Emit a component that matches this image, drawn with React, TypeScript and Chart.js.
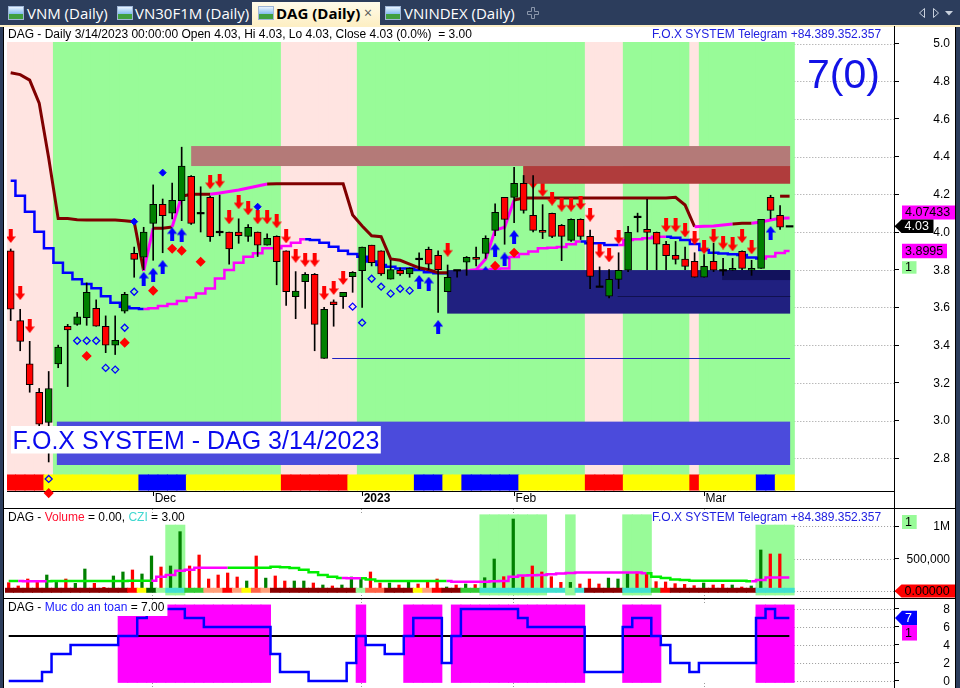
import React, { useEffect, useRef } from 'react';
import { Chart, registerables } from 'chart.js';

Chart.register(...registerables);

/* ====================== DATA ====================== */
// one slot per trading day, 83 bars ending 3/14/2023
const monthTickBars = [15, 37, 53, 73];
const monthTickLabels = ['Dec', '2023', 'Feb', 'Mar'];
const priceAxisTicks = [2.8, 3.0, 3.2, 3.4, 3.6, 3.8, 4.0, 4.2, 4.4, 4.6, 4.8, 5.0];
const volumeAxisTicks = [0, 500000, 1000000];
const volumeAxisLabels = ['', '500,000', '1M'];
const safetyAxisTicks = [0, 2, 4, 6, 8];

const openP = [
  3.90, 3.53, 3.30, 3.15, 2.99, 3.30, 3.50, 3.51, 3.545, 3.595,
  3.50, 3.40, 3.58, 3.887, 3.866, 4.046, 4.147, 4.10, 4.166, 4.295,
  4.10, 4.184, 4.0, 4.0, 4.0, 3.977, 4.0, 3.93, 3.977, 3.90,
  3.657, 3.737, 3.775, 3.33, 3.63, 3.657, 3.763, 3.795, 3.93, 3.90,
  3.75, 3.797, 3.777, 3.857, 3.908, 3.876, 3.683, 3.797, 3.84, 3.866,
  3.887, 4.009, 4.184, 4.184, 4.258, 4.088, 4.009, 4.099, 4.035, 3.956,
  4.067, 3.977, 3.71, 3.659, 3.749, 3.797, 4.08, 4.014, 3.998, 3.935,
  3.876, 3.857, 3.845, 3.76, 3.845, 3.797, 3.797, 3.898, 3.797, 3.807,
  4.184, 4.088, 4.03,
];
const highP = [
  3.91, 3.59, 3.42, 3.17, 3.26, 3.40, 3.51, 3.574, 3.73, 3.64,
  3.555, 3.555, 3.68, 3.92, 4.025, 4.25, 4.175, 4.26, 4.45, 4.30,
  4.24, 4.19, 4.196, 4.0, 4.07, 4.04, 4.0, 3.99, 3.98, 3.90,
  3.79, 3.785, 3.78, 3.60, 3.64, 3.68, 3.79, 3.92, 3.93, 3.90,
  3.85, 3.81, 3.81, 3.89, 3.92, 3.90, 3.825, 3.797, 3.87, 3.92,
  3.98, 4.15, 4.184, 4.343, 4.30, 4.30, 4.145, 4.10, 4.04, 4.07,
  4.07, 4.01, 3.815, 3.80, 3.89, 4.03, 4.10, 4.173, 4.0, 3.95,
  3.95, 3.92, 3.89, 3.88, 3.94, 3.86, 3.86, 3.90, 3.85, 4.067,
  4.195, 4.14, 4.03,
];
const lowP = [
  3.53, 3.37, 3.15, 2.95, 2.78, 3.28, 3.18, 3.505, 3.505, 3.50,
  3.36, 3.35, 3.57, 3.76, 3.80, 3.85, 3.89, 4.07, 4.06, 4.04,
  4.0, 3.95, 3.98, 3.83, 3.94, 3.95, 3.87, 3.93, 3.72, 3.61,
  3.54, 3.595, 3.37, 3.33, 3.50, 3.595, 3.68, 3.60, 3.82, 3.77,
  3.75, 3.77, 3.76, 3.80, 3.80, 3.574, 3.683, 3.76, 3.77, 3.82,
  3.86, 3.98, 3.935, 4.05, 4.10, 4.0, 3.965, 3.97, 3.848, 3.95,
  3.96, 3.70, 3.71, 3.65, 3.70, 3.79, 4.0, 3.80, 3.80, 3.80,
  3.83, 3.80, 3.76, 3.76, 3.79, 3.77, 3.797, 3.80, 3.77, 3.807,
  4.07, 4.014, 4.03,
];
const closeP = [
  3.59, 3.42, 3.19, 2.98, 3.17, 3.39, 3.48, 3.55, 3.68, 3.50,
  3.40, 3.425, 3.67, 3.855, 4.0, 4.147, 4.087, 4.168, 4.35, 4.046,
  4.10, 3.975, 4.0, 3.91, 3.98, 4.025, 3.93, 3.966, 3.842, 3.683,
  3.687, 3.775, 3.51, 3.59, 3.615, 3.68, 3.786, 3.92, 3.837, 3.777,
  3.80, 3.777, 3.807, 3.857, 3.829, 3.80, 3.76, 3.797, 3.866, 3.855,
  3.967, 4.105, 4.067, 4.258, 4.115, 4.009, 3.998, 3.977, 3.977, 4.067,
  3.977, 3.765, 3.71, 3.749, 3.797, 3.998, 4.08, 3.998, 3.935, 3.874,
  3.855, 3.818, 3.76, 3.818, 3.797, 3.797, 3.807, 3.807, 3.807, 4.067,
  4.115, 4.025, 4.03,
];

// slow trend line (blue when falling regime, magenta when rising regime)
const slowLine = [
  4.272, 4.193, 4.108, 4.002, 3.914, 3.837, 3.784, 3.749, 3.724, 3.701,
  3.659, 3.625, 3.604, 3.595, 3.591, 3.595, 3.607, 3.618, 3.634, 3.653,
  3.674, 3.70, 3.754, 3.798, 3.837, 3.869, 3.887, 3.914, 3.914, 3.926,
  3.943, 3.961, 3.958, 3.943, 3.922, 3.901, 3.883, 3.869, 3.843, 3.825,
  3.816, 3.807, 3.807, 3.798, 3.786, 3.781, 3.781, 3.788, 3.793, 3.798,
  3.80, 3.804, 3.807, 3.867, 3.883, 3.897, 3.914, 3.917, 3.92, 3.935,
  3.949, 3.94, 3.94, 3.931, 3.931, 3.958, 3.961, 3.967, 3.975, 3.975,
  3.97, 3.958, 3.936, 3.905, 3.89, 3.886, 3.882, 3.878, 3.865, 3.86,
  3.87, 3.889, 3.8995,
];
const slowUp = [
  0, 0, 0, 0, 0, 0, 0, 0, 0, 0,
  0, 0, 0, 0, 0, 1, 1, 1, 1, 1,
  1, 1, 1, 1, 1, 1, 1, 1, 1, 1,
  1, 1, 0, 0, 0, 0, 0, 0, 0, 0,
  0, 0, 0, 0, 0, 0, 0, 0, 0, 1,
  1, 1, 1, 1, 1, 1, 1, 1, 1, 1,
  1, 0, 0, 0, 0, 1, 1, 1, 1, 1,
  0, 0, 0, 0, 0, 0, 0, 0, 0, 0,
  1, 1, 1,
];
// fast trailing line (maroon / magenta)
const fastLine = [
  4.845, 4.835, 4.806, 4.684, 4.393, 4.071, 4.071, 4.065, 4.064, 4.064,
  4.064, 4.064, 4.06, 4.055, 3.793, 4.02, 4.02, 4.027, 4.19, 4.20,
  4.20, 4.20, 4.207, 4.215, 4.223, 4.233, 4.244, 4.255, 4.256, 4.256,
  4.256, 4.256, 4.256, 4.256, 4.256, 4.256, 4.09, 4.032, 3.98, 3.975,
  3.857, 3.85, 3.83, 3.81, 3.80, 3.784, 3.784, 3.788, 3.793, 3.80,
  3.857, 4.01, 4.025, 4.17, 4.18, 4.18, 4.18, 4.18, 4.18, 4.18,
  4.18, 4.18, 4.18, 4.18, 4.18, 4.18, 4.18, 4.18, 4.18, 4.18,
  4.184, 4.143, 4.028, 4.03, 4.032, 4.037, 4.042, 4.046, 4.046, 4.053,
  4.064, 4.073, 4.07433,
];
const fastUp = [
  0, 0, 0, 0, 0, 0, 0, 0, 0, 0,
  0, 0, 0, 0, 0, 1, 0, 0, 1, 0,
  0, 0, 1, 1, 1, 1, 1, 1, 0, 0,
  0, 0, 0, 0, 0, 0, 0, 0, 0, 0,
  0, 0, 0, 0, 0, 0, 0, 0, 0, 1,
  1, 1, 1, 1, 0, 0, 0, 0, 0, 0,
  0, 0, 0, 0, 0, 0, 0, 0, 0, 0,
  0, 0, 0, 1, 1, 1, 1, 0, 0, 1,
  1, 1, 1,
];
const resistanceLine = [[81, 4.19], [82, 4.19]];

// regime background (0 = pink, 1 = green) and bottom strip (0 red, 1 yellow, 2 blue)
const priceBand = [
  0, 0, 0, 0, 0, 1, 1, 1, 1, 1,
  1, 1, 1, 1, 1, 1, 1, 1, 1, 1,
  1, 1, 1, 1, 1, 1, 1, 1, 1, 0,
  0, 0, 0, 0, 0, 0, 0, 1, 1, 1,
  1, 1, 1, 1, 1, 1, 1, 1, 1, 1,
  1, 1, 1, 1, 1, 1, 1, 1, 1, 1,
  1, 0, 0, 0, 0, 1, 1, 1, 1, 1,
  1, 1, 0, 1, 1, 1, 1, 1, 1, 1,
  1, 1, 1,
];
const priceStrip = [
  0, 0, 0, 0, 1, 1, 1, 1, 1, 1,
  1, 1, 1, 1, 2, 2, 2, 2, 2, 1,
  1, 1, 1, 1, 1, 1, 1, 1, 1, 0,
  0, 0, 0, 0, 0, 0, 1, 1, 1, 1,
  1, 1, 1, 2, 2, 2, 1, 1, 2, 2,
  2, 2, 2, 2, 1, 1, 1, 1, 1, 1,
  1, 0, 0, 0, 0, 1, 1, 1, 1, 1,
  1, 1, 0, 1, 1, 1, 1, 1, 1, 2,
  2, 1, 1,
];

// signals: [bar, price]
const sellArrows = [
  [0, 3.979], [1, 3.676], [2, 3.501], [21, 4.264], [22, 4.272], [23, 4.078], [24, 4.158],
  [25, 4.126], [26, 4.078], [27, 4.078], [28, 4.057], [29, 3.977], [30, 3.874], [31, 3.853],
  [32, 3.853], [33, 3.676], [34, 3.703], [35, 3.756], [46, 3.906], [55, 4.265], [56, 4.224],
  [57, 4.177], [58, 4.145], [59, 4.145], [60, 4.154], [61, 4.092], [62, 3.898], [63, 3.876],
  [64, 3.973], [69, 4.036], [70, 4.036], [71, 4.008], [72, 3.968], [73, 3.919], [74, 3.978],
  [75, 3.944], [76, 3.935], [77, 3.978], [78, 3.919],
];
const buyArrows = [
  [14, 3.752], [15, 3.773], [16, 3.814], [17, 3.988], [18, 3.982], [43, 3.735], [44, 3.726],
  [45, 3.496], [50, 3.782], [51, 3.903], [52, 3.855], [53, 3.973], [80, 3.995],
];
const blueDots = [[13, 4.055], [16, 4.315], [26, 4.134]];
const redDots = [
  [4, 2.615], [8, 3.342], [12, 3.413], [15, 3.689], [17, 3.911], [18, 3.901], [20, 3.842],
  [51, 3.82], [53, 3.89],
];
const hollowDots = [
  [4, 2.69], [7, 3.423], [8, 3.423], [9, 3.423], [10, 3.279], [11, 3.27], [12, 3.492],
  [13, 3.683], [36, 3.604], [37, 3.519], [38, 3.752], [39, 3.71], [40, 3.673], [41, 3.699],
  [42, 3.689],
];
// price zones: [fromBar, toBar, low, high]
const priceZones = [
  [19, 82.06, 4.35, 4.456],
  [53.95, 82.06, 4.256, 4.35],
  [45.95, 82.06, 3.567, 3.798],
  [74.9, 82.06, 3.745, 3.798],
  [4.86, 82.06, 2.764, 2.994],
];
// horizontal level lines: [fromBar, toBar, price]
const levelLines = [[33.85, 82.06, 3.33], [63.9, 82.06, 3.66]];
const lastValues = { close: 4.03, fast: 4.07433, slow: 3.8995 };

// volume pane
const volume = [
  129000, 78000, 186000, 165000, 248000, 134000, 186000, 119000, 341000, 119000,
  57000, 233000, 295000, 326000, 264000, 543000, 372000, 388000, 920000, 388000,
  558000, 186000, 248000, 279000, 217000, 155000, 543000, 200000, 233000, 155000,
  155000, 155000, 124000, 93000, 78000, 93000, 217000, 186000, 295000, 124000,
  124000, 93000, 150000, 109000, 150000, 186000, 62000, 93000, 109000, 100000,
  206000, 496000, 222000, 1116000, 222000, 388000, 295000, 222000, 134000, 134000,
  109000, 186000, 109000, 200000, 186000, 269000, 295000, 269000, 145000, 140000,
  114000, 103000, 83000, 124000, 93000, 103000, 93000, 62000, 78000, 636000,
  574000, 574000, 0,
];
const volumeMA = [
  155000, 155000, 150000, 150000, 150000, 155000, 155000, 155000, 155000, 155000,
  155000, 155000, 155000, 157000, 157000, 160000, 220000, 250000, 315000, 330000,
  360000, 360000, 360000, 360000, 360000, 360000, 360000, 360000, 377000, 370000,
  355000, 330000, 290000, 250000, 220000, 200000, 197000, 197000, 180000, 155000,
  155000, 155000, 155000, 155000, 155000, 155000, 155000, 145000, 145000, 145000,
  145000, 150000, 155000, 220000, 240000, 245000, 248000, 260000, 270000, 280000,
  285000, 285000, 285000, 285000, 285000, 285000, 285000, 275000, 220000, 200000,
  180000, 170000, 160000, 160000, 160000, 160000, 160000, 160000, 150000, 170000,
  210000, 210000, 210000,
];
const volumeMAUp = [
  0, 0, 1, 1, 1, 0, 0, 0, 0, 0,
  0, 0, 0, 0, 0, 0, 1, 1, 1, 1,
  1, 1, 1, 1, 0, 0, 0, 0, 0, 0,
  0, 0, 0, 0, 0, 0, 1, 1, 0, 0,
  0, 0, 0, 0, 0, 0, 0, 1, 1, 1,
  1, 1, 1, 1, 1, 1, 1, 1, 1, 1,
  1, 1, 1, 1, 1, 1, 1, 1, 0, 0,
  0, 0, 0, 0, 0, 0, 0, 0, 0, 1,
  1, 1, 1,
];
const volumeStrip = [
  0, 0, 0, 0, 0, 0, 0, 0, 0, 0,
  0, 0, 0, 1, 2, 3, 4, 5, 5, 6,
  6, 7, 7, 1, 7, 2, 8, 7, 0, 0,
  0, 0, 0, 0, 0, 0, 0, 4, 8, 8,
  0, 0, 0, 2, 7, 1, 0, 0, 6, 6,
  5, 5, 5, 5, 5, 5, 5, 5, 5, 4,
  5, 0, 0, 0, 0, 5, 5, 5, 6, 1,
  0, 0, 0, 0, 0, 0, 0, 0, 0, 5,
  5, 5, 5,
];
const volumeBand = [
  0, 0, 0, 0, 0, 0, 0, 0, 0, 0,
  0, 0, 0, 0, 0, 0, 0, 1020000, 1020000, 0,
  0, 0, 0, 0, 0, 0, 0, 0, 0, 0,
  0, 0, 0, 0, 0, 0, 0, 0, 0, 0,
  0, 0, 0, 0, 0, 0, 0, 0, 0, 0,
  1180000, 1180000, 1180000, 1180000, 1180000, 1180000, 1180000, 0, 0, 1180000,
  0, 0, 0, 0, 0, 1180000, 1180000, 1180000, 0, 0,
  0, 0, 0, 0, 0, 0, 0, 0, 0, 1020000,
  1020000, 1020000, 1020000,
];

// safety pane ("Muc do an toan")
const safety = [
  0, 0, 0, 0, 1, 3, 3, 4, 4, 4,
  4, 4, 5, 5, 7, 8, 8, 8, 8, 7,
  7, 6, 6, 6, 6, 6, 6, 6, 3, 1,
  1, 1, 0, 0, 0, 0, 2, 5, 4, 4,
  3, 3, 5, 7, 7, 7, 2, 5, 8, 8,
  8, 8, 8, 8, 7, 6, 6, 6, 6, 6,
  6, 1, 1, 1, 1, 6, 7, 7, 5, 4,
  2, 2, 1, 2, 2, 2, 2, 2, 2, 7,
  8, 7, 7,
];
const SAFE_LEVEL = 5;

/* ====================== STYLE / LAYOUT ====================== */
const N = closeP.length;
const FONT_FAMILY = '"Liberation Sans", Arial, Helvetica, sans-serif';
const f = (size: number, bold = false) => `${bold ? 'bold ' : ''}${size}px ${FONT_FAMILY}`;
const BAR0_PX = 8.7;
const BAR_STEP_PX = 9.52;
const PLOT_LEFT = 5;
const PLOT_RIGHT = 894;
const X_MIN = (PLOT_LEFT - BAR0_PX) / BAR_STEP_PX;
const X_MAX = (PLOT_RIGHT - BAR0_PX) / BAR_STEP_PX;
const AXIS_W = 960 - PLOT_RIGHT;

const PINK = '#ffe4e1';
const PALEGREEN = '#98fb98';
const MAGENTA = '#ff00ff';
const BLUE = '#0000ff';
const MAROON = '#800000';
const LIME = '#00ee00';
const STRIP_COLORS = ['#ff0000', '#ffff00', '#0000ff'];
const VOL_STRIP_COLORS = ['#8b0000', '#ff0000', '#ffff00', '#006400', '#98fb98', '#40e0d0', '#32cd32', '#ffa07a', '#ff6347'];
const ZONE_COLORS = ['#b47a78', '#b03c3c', '#202080', '#12125c', '#4b4bdc'];
const LEVEL_COLORS = ['#2020c0', '#101050'];
const NAVY_FRAME = '#2c3d5c';

const fullBar = { barPercentage: 1, categoryPercentage: 1, grouped: false, borderWidth: 0, inflateAmount: 0.5 };

function makeArrow(color: string, up: boolean) {
  const c = document.createElement('canvas');
  c.width = 10; c.height = 14;
  const g = c.getContext('2d')!;
  g.fillStyle = color;
  g.beginPath();
  if (up) {
    g.moveTo(5, 0); g.lineTo(10, 6.5); g.lineTo(7, 6.5); g.lineTo(7, 14); g.lineTo(3, 14); g.lineTo(3, 6.5); g.lineTo(0, 6.5);
  } else {
    g.moveTo(3, 0); g.lineTo(7, 0); g.lineTo(7, 7.5); g.lineTo(10, 7.5); g.lineTo(5, 14); g.lineTo(0, 7.5); g.lineTo(3, 7.5);
  }
  g.closePath();
  g.fill();
  return c;
}

function xScale(height: number, tickLen: number): any {
  return {
    type: 'linear', min: X_MIN, max: X_MAX, offset: false,
    afterBuildTicks: (s: any) => { s.ticks = monthTickBars.map((v) => ({ value: v })); },
    afterFit: (s: any) => { s.height = height; },
    ticks: { display: false },
    grid: { display: tickLen > 0, offset: false, drawOnChartArea: false, drawTicks: tickLen > 0, tickLength: tickLen, color: '#000' },
    border: { display: tickLen > 0, color: '#000' },
  };
}
function yScale(min: number, max: number, ticks: number[]): any {
  return {
    type: 'linear', position: 'right', min, max,
    afterBuildTicks: (s: any) => { s.ticks = ticks.map((v) => ({ value: v })); },
    afterFit: (s: any) => { s.width = AXIS_W; },
    ticks: { display: false },
    grid: { offset: false, drawOnChartArea: false, drawTicks: true, tickLength: 5, color: '#000' },
    border: { display: true, color: '#000' },
  };
}
function baseOptions(padTop: number, scales: any): any {
  return {
    animation: false, responsive: false, devicePixelRatio: 1, events: [],
    layout: { padding: { left: PLOT_LEFT, top: padTop, right: 0, bottom: 0 } },
    plugins: { legend: { display: false }, tooltip: { enabled: false } },
    scales,
  };
}

function drawHGrid(chart: any, ticks: number[]) {
  const { ctx, chartArea } = chart;
  const xs = chart.scales.x, ys = chart.scales.y;
  const x0 = xs.getPixelForValue(N - 0.5);
  ctx.save();
  ctx.strokeStyle = '#9a9a9a'; ctx.lineWidth = 1; ctx.setLineDash([1, 2]);
  ticks.forEach((v) => {
    const py = Math.round(ys.getPixelForValue(v)) + 0.5;
    ctx.beginPath(); ctx.moveTo(x0, py); ctx.lineTo(chartArea.right, py); ctx.stroke();
  });
  ctx.restore();
}
function drawMonthMarks(chart: any) {
  const { ctx, chartArea } = chart;
  const xs = chart.scales.x;
  ctx.save();
  ctx.strokeStyle = '#9a9a9a'; ctx.lineWidth = 1; ctx.setLineDash([1, 2]);
  monthTickBars.forEach((b) => {
    const px = Math.round(xs.getPixelForValue(b)) + 0.5;
    ctx.beginPath(); ctx.moveTo(px, chartArea.top); ctx.lineTo(px, chartArea.top + 5); ctx.stroke();
    ctx.beginPath(); ctx.moveTo(px, chartArea.bottom - 5); ctx.lineTo(px, chartArea.bottom); ctx.stroke();
  });
  ctx.restore();
}
function drawAxisLabels(chart: any, ticks: number[], labels: string[] | null) {
  const { ctx } = chart;
  const ys = chart.scales.y;
  ctx.save();
  ctx.font = f(12); ctx.fillStyle = '#000'; ctx.textAlign = 'right'; ctx.textBaseline = 'middle';
  ticks.forEach((v, k) => {
    const t = labels ? labels[k] : v.toFixed(1);
    if (t) ctx.fillText(t, 950, ys.getPixelForValue(v) + 0.5);
  });
  ctx.restore();
}
function drawFrame(chart: any, topLine: boolean) {
  const { ctx, height } = chart;
  ctx.save();
  ctx.strokeStyle = '#000'; ctx.lineWidth = 1;
  ctx.beginPath(); ctx.moveTo(894.5, 0); ctx.lineTo(894.5, height); ctx.stroke();
  if (topLine) { ctx.beginPath(); ctx.moveTo(0, 0.5); ctx.lineTo(960, 0.5); ctx.stroke(); }
  ctx.restore();
}
function drawRuns(ctx: any, x: number, y: number, runs: [string, string][]) {
  let cx = x;
  runs.forEach(([t, c]) => { ctx.fillStyle = c; ctx.fillText(t, cx, y); cx += ctx.measureText(t).width; });
  return cx;
}
function badge(ctx: any, x: number, yc: number, w: number, h: number, bg: string, fg: string, text: string, arrow: boolean) {
  ctx.save();
  ctx.fillStyle = bg;
  ctx.beginPath();
  if (arrow) {
    ctx.moveTo(x, yc); ctx.lineTo(x + 7, yc - h / 2); ctx.lineTo(x + w, yc - h / 2);
    ctx.lineTo(x + w, yc + h / 2); ctx.lineTo(x + 7, yc + h / 2); ctx.closePath();
  } else {
    ctx.rect(x, yc - h / 2, w, h);
  }
  ctx.fill();
  ctx.fillStyle = fg; ctx.font = f(12.5); ctx.textBaseline = 'middle'; ctx.textAlign = 'left';
  ctx.fillText(text, x + (arrow ? 10 : 3), yc + 0.5);
  ctx.restore();
}

/* ---------------------------- price pane ---------------------------- */
function priceConfig(): any {
  const idx = closeP.map((_, i) => i);
  const down = makeArrow('#ff0000', false);
  const up = makeArrow('#0000ff', true);
  const STRIP_LO = 2.631, STRIP_HI = 2.711;
  const isDoji = (i: number) => Math.abs(openP[i] - closeP[i]) < 0.003;
  const pts = (arr: number[][]) => arr.map(([x, y]) => ({ x, y }));

  const plugin = {
    id: 'pricePaint',
    beforeDatasetsDraw(chart: any) { drawHGrid(chart, priceAxisTicks); },
    beforeDatasetDraw(chart: any, args: any) {
      if (chart.data.datasets[args.index].label !== 'wick') return;
      const { ctx, chartArea } = chart;
      const xs = chart.scales.x, ys = chart.scales.y;
      ctx.save();
      ctx.beginPath(); ctx.rect(chartArea.left, chartArea.top, chartArea.right - chartArea.left, chartArea.bottom - chartArea.top); ctx.clip();
      priceZones.forEach((z, k) => {
        const x0 = xs.getPixelForValue(z[0]), x1 = xs.getPixelForValue(z[1]);
        const y0 = ys.getPixelForValue(z[3]), y1 = ys.getPixelForValue(z[2]);
        ctx.fillStyle = ZONE_COLORS[k];
        ctx.fillRect(x0, y0, x1 - x0, y1 - y0);
      });
      levelLines.forEach((l, k) => {
        const py = Math.round(ys.getPixelForValue(l[2])) + 0.5;
        ctx.strokeStyle = LEVEL_COLORS[k]; ctx.lineWidth = 1;
        ctx.beginPath(); ctx.moveTo(xs.getPixelForValue(l[0]), py); ctx.lineTo(xs.getPixelForValue(l[1]), py); ctx.stroke();
      });
      ctx.restore();
    },
    afterDatasetsDraw(chart: any) {
      const { ctx } = chart;
      ctx.save();
      ctx.font = f(25);
      const t = 'F.O.X SYSTEM - DAG 3/14/2023';
      const w = ctx.measureText(t).width;
      ctx.fillStyle = '#fff';
      ctx.fillRect(11, 400, w + 3, 27.5);
      ctx.fillStyle = '#0a0aee'; ctx.textBaseline = 'alphabetic'; ctx.textAlign = 'left';
      ctx.fillText(t, 12.5, 422.5);
      ctx.font = f(41); ctx.fillStyle = '#1212e6';
      ctx.fillText('7(0)', 807, 62);
      ctx.restore();
    },
    afterDraw(chart: any) {
      const { ctx, chartArea } = chart;
      const xs = chart.scales.x, ys = chart.scales.y;
      drawAxisLabels(chart, priceAxisTicks, null);
      ctx.save();
      ctx.fillStyle = '#000'; ctx.textBaseline = 'top'; ctx.textAlign = 'left';
      monthTickBars.forEach((b, k) => {
        ctx.font = f(12, /^\d{4}$/.test(monthTickLabels[k]));
        ctx.fillText(monthTickLabels[k], xs.getPixelForValue(b) + 1.5, chartArea.bottom + 2);
      });
      ctx.font = f(12); ctx.textBaseline = 'middle';
      ctx.fillStyle = '#000';
      ctx.fillText('DAG - Daily 3/14/2023 00:00:00 Open 4.03, Hi 4.03, Lo 4.03, Close 4.03 (0.0%)  = 3.00', 8, 8.5);
      ctx.fillStyle = '#2020e0';
      ctx.fillText('F.O.X SYSTEM Telegram +84.389.352.357', 652, 8.5);
      ctx.restore();
      const yf = ys.getPixelForValue(lastValues.fast) - 5.5;
      const yc = ys.getPixelForValue(lastValues.close);
      const ysl = ys.getPixelForValue(lastValues.slow);
      badge(ctx, 902, yf, 53, 14, MAGENTA, '#000', lastValues.fast.toFixed(5), false);
      badge(ctx, 894.5, yc, 39, 13.5, '#000', '#fff', lastValues.close.toFixed(2), true);
      badge(ctx, 902, ysl, 45, 14.5, MAGENTA, '#000', String(lastValues.slow), false);
      badge(ctx, 902, ysl + 16.5, 14.5, 12.5, PALEGREEN, '#000', '1', false);
      drawFrame(chart, false);
    },
  };

  const datasets: any[] = [
    { type: 'bar', label: 'band', data: idx.map((i) => ({ x: i, y: [STRIP_HI, 5.3] })), backgroundColor: priceBand.map((b) => (b ? PALEGREEN : PINK)), ...fullBar, order: 100 },
    { type: 'bar', label: 'strip', data: idx.map((i) => ({ x: i, y: [STRIP_LO, STRIP_HI] })), backgroundColor: priceStrip.map((c) => STRIP_COLORS[c]), ...fullBar, order: 99 },
    { type: 'line', label: 'slow', data: idx.map((i) => ({ x: i, y: slowLine[i] })), borderColor: BLUE, borderWidth: 2.5, pointRadius: 0, stepped: 'middle', fill: false,
      segment: { borderColor: (c: any) => (slowUp[c.p1DataIndex] ? MAGENTA : BLUE) }, order: 60 },
    { type: 'line', label: 'fast', data: idx.map((i) => ({ x: i, y: fastLine[i] })), borderColor: MAROON, borderWidth: 3, pointRadius: 0, fill: false,
      segment: { borderColor: (c: any) => (fastUp[c.p1DataIndex] ? MAGENTA : MAROON) }, order: 59 },
    { type: 'line', label: 'res', data: pts(resistanceLine), borderColor: MAROON, borderWidth: 3, pointRadius: 0, fill: false, order: 58 },
    { type: 'scatter', label: 'sell', data: pts(sellArrows), pointStyle: down, pointRadius: 6, order: 40 },
    { type: 'scatter', label: 'buy', data: pts(buyArrows), pointStyle: up, pointRadius: 6, order: 40 },
    { type: 'scatter', label: 'bdot', data: pts(blueDots), pointStyle: 'rectRot', pointRadius: 3.5, pointBackgroundColor: BLUE, pointBorderColor: BLUE, pointBorderWidth: 1, order: 39 },
    { type: 'scatter', label: 'rdot', data: pts(redDots), pointStyle: 'rectRot', pointRadius: 4, pointBackgroundColor: '#ff0000', pointBorderColor: '#ff0000', pointBorderWidth: 1.5, clip: false, order: 39 },
    { type: 'scatter', label: 'hdot', data: pts(hollowDots), pointStyle: 'rectRot', pointRadius: 3.5, pointBackgroundColor: 'rgba(0,0,0,0)', pointBorderColor: BLUE, pointBorderWidth: 1.3, order: 39 },
    { type: 'bar', label: 'wick', data: idx.map((i) => ({ x: i, y: [lowP[i], highP[i]] })), backgroundColor: '#000', barThickness: 1, grouped: false, borderWidth: 0, order: 2 },
    { type: 'bar', label: 'body',
      data: idx.map((i) => ({ x: i, y: isDoji(i) ? [closeP[i] - 0.004, closeP[i] + 0.004] : [Math.min(openP[i], closeP[i]), Math.max(openP[i], closeP[i])] })),
      backgroundColor: idx.map((i) => (isDoji(i) ? '#000' : closeP[i] > openP[i] ? '#008000' : '#ff0000')),
      borderColor: '#000', borderWidth: idx.map((i) => (isDoji(i) ? 0 : 1)), borderSkipped: false, barThickness: 7, grouped: false, order: 1 },
  ];

  return {
    type: 'bar',
    data: { datasets },
    options: baseOptions(16, { x: xScale(17, 5), y: yScale(2.626, 5.008, priceAxisTicks) }),
    plugins: [plugin],
  };
}

/* ---------------------------- volume pane ---------------------------- */
function volumeConfig(): any {
  const idx = closeP.map((_, i) => i);
  const plugin = {
    id: 'volPaint',
    beforeDatasetsDraw(chart: any) { drawHGrid(chart, volumeAxisTicks); drawMonthMarks(chart); },
    afterDraw(chart: any) {
      const { ctx } = chart;
      const ys = chart.scales.y;
      drawAxisLabels(chart, volumeAxisTicks, volumeAxisLabels);
      ctx.save();
      ctx.font = f(12); ctx.textBaseline = 'middle'; ctx.textAlign = 'left';
      drawRuns(ctx, 8, 10, [['DAG - ', '#000'], ['Volume', '#ff1030'], [' = 0.00, ', '#000'], ['CZI', '#40d8d0'], [' = 3.00', '#000']]);
      ctx.fillStyle = '#2020e0';
      ctx.fillText('F.O.X SYSTEM Telegram +84.389.352.357', 652, 10);
      ctx.restore();
      badge(ctx, 902, 14, 14.7, 14, PALEGREEN, '#000', '1', false);
      badge(ctx, 894.5, ys.getPixelForValue(0), 66, 13, '#ff0000', '#000', '0.00000', true);
      drawFrame(chart, true);
    },
  };
  const datasets: any[] = [
    { type: 'bar', label: 'band', data: idx.filter((i) => volumeBand[i] > 0).map((i) => ({ x: i, y: [-60000, volumeBand[i]] })), backgroundColor: PALEGREEN, ...fullBar, order: 100 },
    { type: 'bar', label: 'vol', data: idx.map((i) => ({ x: i, y: volume[i] })), backgroundColor: idx.map((i) => (closeP[i] > openP[i] ? '#008000' : '#ff0000')), barThickness: 2.6, grouped: false, borderWidth: 0, order: 20 },
    { type: 'line', label: 'ma', data: idx.map((i) => ({ x: i, y: volumeMA[i] })), borderColor: LIME, borderWidth: 2.5, pointRadius: 0, stepped: 'middle', fill: false,
      segment: { borderColor: (c: any) => (volumeMAUp[c.p1DataIndex] ? MAGENTA : LIME) }, order: 10 },
    { type: 'bar', label: 'strip', data: idx.map((i) => ({ x: i, y: [-20000, 42000] })), backgroundColor: volumeStrip.map((c) => VOL_STRIP_COLORS[c]), ...fullBar, order: 5 },
  ];
  return {
    type: 'bar',
    data: { datasets },
    options: baseOptions(1, { x: xScale(1, 0), y: yScale(-93000, 1271300, volumeAxisTicks) }),
    plugins: [plugin],
  };
}

/* ---------------------------- safety pane ---------------------------- */
function safetyConfig(): any {
  const idx = closeP.map((_, i) => i);
  const plugin = {
    id: 'safePaint',
    beforeDatasetsDraw(chart: any) { drawHGrid(chart, safetyAxisTicks); drawMonthMarks(chart); },
    afterDatasetsDraw(chart: any) {
      const { ctx } = chart;
      ctx.save();
      ctx.font = f(12); ctx.textBaseline = 'middle'; ctx.textAlign = 'left';
      const parts: [string, string][] = [['DAG - ', '#000'], ['Muc do an toan', '#1a1aff'], [' = 7.00', '#000']];
      const w = parts.reduce((s, p) => s + ctx.measureText(p[0]).width, 0);
      ctx.fillStyle = '#fff';
      ctx.fillRect(5, 2, w + 6, 16);
      drawRuns(ctx, 8, 10, parts);
      ctx.restore();
    },
    afterDraw(chart: any) {
      const { ctx } = chart;
      const ys = chart.scales.y;
      drawAxisLabels(chart, safetyAxisTicks, safetyAxisTicks.map(String));
      const y7 = ys.getPixelForValue(safety[N - 1]);
      badge(ctx, 895, y7, 22, 14.5, BLUE, '#fff', String(safety[N - 1]), true);
      badge(ctx, 902, y7 + 14.8, 15, 15.5, MAGENTA, '#000', '1', false);
      drawFrame(chart, true);
    },
  };
  const datasets: any[] = [
    { type: 'bar', label: 'zone', data: idx.filter((i) => safety[i] >= SAFE_LEVEL).map((i) => ({ x: i, y: [-0.15, 8.44] })), backgroundColor: MAGENTA, ...fullBar, order: 100 },
    { type: 'line', label: 'level', data: [{ x: 0, y: SAFE_LEVEL }, { x: N - 1, y: SAFE_LEVEL }], borderColor: '#000', borderWidth: 2, pointRadius: 0, fill: false, order: 20 },
    { type: 'line', label: 'safety', data: idx.map((i) => ({ x: i, y: safety[i] })), borderColor: BLUE, borderWidth: 2.5, pointRadius: 0, stepped: 'middle', fill: false, order: 10 },
  ];
  return {
    type: 'bar',
    data: { datasets },
    options: baseOptions(1, { x: xScale(0, 0), y: yScale(-0.778, 9.111, safetyAxisTicks) }),
    plugins: [plugin],
  };
}

/* ====================== UI ====================== */
function TabIcon({ x }: { x: number }) {
  return (
    <div style={{ position: 'absolute', left: x, top: 6, width: 14, height: 12, border: '1px solid #9fb6d6', background: 'linear-gradient(to top, #3f9f3f 0%, #3f9f3f 38%, #7ab8ee 38%, #e9f3ff 100%)' }} />
  );
}
const tabText: any = { position: 'absolute', top: 3, fontFamily: '"Open Sans", "Noto Sans", sans-serif', fontSize: 15, lineHeight: '20px', whiteSpace: 'nowrap' };

function TabBar() {
  return (
    <div style={{ position: 'absolute', left: 0, top: 0, width: 960, height: 25, background: NAVY_FRAME }}>
      <TabIcon x={8} />
      <div style={{ ...tabText, left: 27, color: '#fff' }}>VNM (Daily)</div>
      <TabIcon x={117} />
      <div style={{ ...tabText, left: 135, color: '#fff' }}>VN30F1M (Daily)</div>
      <div style={{ position: 'absolute', left: 252, top: 2, width: 128, height: 23, background: 'linear-gradient(#fffbea, #fdefc5)' }} />
      <TabIcon x={258} />
      <div style={{ ...tabText, left: 276, color: '#000', fontWeight: 700 }}>DAG (Daily)</div>
      <div style={{ ...tabText, left: 364, color: '#555', fontSize: 14 }}>×</div>
      <TabIcon x={385} />
      <div style={{ ...tabText, left: 404, color: '#fff' }}>VNINDEX (Daily)</div>
      <svg style={{ position: 'absolute', left: 527, top: 7 }} width="12" height="12" viewBox="0 0 12 12">
        <path d="M4.5 0.5 H7.5 V4.5 H11.5 V7.5 H7.5 V11.5 H4.5 V7.5 H0.5 V4.5 H4.5 Z" fill="none" stroke="#8a96aa" strokeWidth="1" />
      </svg>
      <svg style={{ position: 'absolute', left: 918, top: 8 }} width="40" height="10" viewBox="0 0 40 10">
        <path d="M6.5 0.5 L1.5 5 L6.5 9.5 Z" fill="none" stroke="#c8d0dc" strokeWidth="1" />
        <path d="M15.5 0.5 L20.5 5 L15.5 9.5 Z" fill="none" stroke="#c8d0dc" strokeWidth="1" />
        <path d="M27 3 L35 3 L31 7.5 Z" fill="#c8d0dc" />
      </svg>
    </div>
  );
}

export default function App() {
  const priceRef = useRef<HTMLCanvasElement>(null);
  const volRef = useRef<HTMLCanvasElement>(null);
  const safeRef = useRef<HTMLCanvasElement>(null);

  useEffect(() => {
    const charts: Chart[] = [
      new Chart(priceRef.current as HTMLCanvasElement, priceConfig()),
      new Chart(volRef.current as HTMLCanvasElement, volumeConfig()),
      new Chart(safeRef.current as HTMLCanvasElement, safetyConfig()),
    ];
    return () => charts.forEach((c) => c.destroy());
  }, []);

  const cv = (top: number, h: number): any => ({ position: 'absolute', left: 0, top, width: 960, height: h, display: 'block' });
  return (
    <div style={{ position: 'fixed', left: 0, top: 0, width: 960, height: 688, background: '#fff', overflow: 'hidden' }}>
      <TabBar />
      <div style={{ position: 'absolute', left: 0, top: 25, width: 960, height: 2, background: '#fdefc5' }} />
      <canvas ref={priceRef} width={960} height={482} style={cv(26, 482)} />
      <canvas ref={volRef} width={960} height={90} style={cv(508, 90)} />
      <canvas ref={safeRef} width={960} height={90} style={cv(598, 90)} />
      <div style={{ position: 'absolute', left: 0, top: 27, width: 3, height: 661, background: NAVY_FRAME }} />
      <div style={{ position: 'absolute', left: 3, top: 27, width: 1, height: 661, background: '#000' }} />
      <div style={{ position: 'absolute', left: 955, top: 27, width: 1, height: 661, background: '#000' }} />
      <div style={{ position: 'absolute', left: 956, top: 27, width: 4, height: 661, background: NAVY_FRAME }} />
    </div>
  );
}
